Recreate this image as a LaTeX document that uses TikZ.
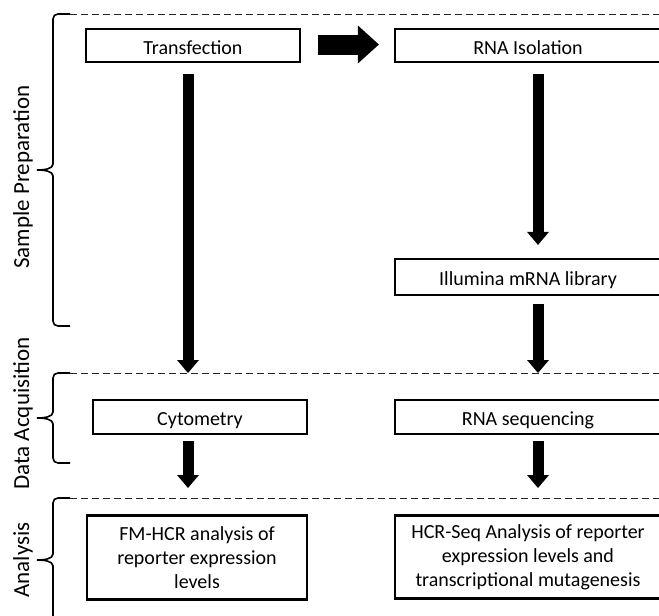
\documentclass[tikz,border=0pt]{standalone}
\usepackage{fontspec}
\setmainfont{Carlito}
\usetikzlibrary{arrows.meta,calc}
\begin{document}
\begin{tikzpicture}[x=1pt,y=-1pt,
  box/.style={draw, line width=2.2pt, fill=white, font=\fontsize{20}{23.8}\selectfont, align=center, inner sep=0pt},
  onebox/.style={box, text height=17pt, text depth=0pt},
  phase/.style={font=\fontsize{23}{27}\selectfont, rotate=90, anchor=base, inner sep=0pt},
  sepline/.style={line width=1pt, black!85, dash pattern=on 7pt off 4pt},
  bracepath/.style={line width=1.6pt},
  bigdown/.style={line width=11pt, -{Triangle[width=22pt,length=13pt,line width=0pt]}},
  bigright/.style={line width=20pt, -{Triangle[width=38pt,length=21pt,line width=0pt]}},
]
\useasboundingbox (0,0) rectangle (659,616);

% phase separators
\coordinate (d1L) at (70,14);  \coordinate (d1R) at (662,14);
\coordinate (d2L) at (70,373); \coordinate (d2R) at (662,373);
\coordinate (d3L) at (70,498); \coordinate (d3R) at (662,498);
\draw[sepline] (d1L) -- (d1R);
\draw[sepline] (d2L) -- (d2R);
\draw[sepline] (d3L) -- (d3R);

% braces
\draw[bracepath] (70,14) -- (58,14) .. controls (55,14) and (53,16) .. (53,19) -- (53,164)
  .. controls (53,169) and (44,170) .. (37,170) .. controls (44,170) and (53,171) .. (53,176)
  -- (53,321) .. controls (53,324) and (55,326) .. (58,326) -- (70,326);
\draw[bracepath] (70,373) -- (58,373) .. controls (55,373) and (53,375) .. (53,378) -- (53,412)
  .. controls (53,417) and (44,418) .. (37,418) .. controls (44,418) and (53,419) .. (53,424)
  -- (53,458) .. controls (53,461) and (55,463) .. (58,463) -- (70,463);
\draw[bracepath] (70,498) -- (58,498) .. controls (55,498) and (53,500) .. (53,503) -- (53,554)
  .. controls (53,559) and (44,560) .. (37,560) .. controls (44,560) and (53,561) .. (53,566)
  -- (53,622);

% phase labels
\node[phase] (lab1) at (29,177) {Sample Preparation};
\node[phase] (lab2) at (29,413.5) {Data Acquisition};
\node[phase] (lab3) at (29,560) {Analysis};

% boxes
\node[onebox, minimum width=214pt, minimum height=33pt] (trans) at (193,45.5) {Transfection};
\node[onebox, minimum width=266pt, minimum height=33pt] (rnaiso) at (528,45.5) {RNA Isolation};
\node[onebox, minimum width=266pt, minimum height=36pt] (illum) at (528,277) {Illumina mRNA library};
\node[onebox, minimum width=214pt, minimum height=34pt] (cyto) at (200,417) {Cytometry};
\node[onebox, minimum width=266pt, minimum height=34pt] (rnaseq) at (528,417) {RNA sequencing};
\node[box, minimum width=220pt, minimum height=84pt] (fmhcr) at (197,557.5) {FM-HCR analysis of\\reporter expression\\levels};
\node[box, minimum width=266pt, minimum height=83pt] (hcrseq) at (528,557) {HCR-Seq Analysis of reporter\\expression levels and\\transcriptional mutagenesis};

% block arrows
\draw[bigright] ([xshift=17pt,yshift=1pt]trans.east) -- ([xshift=-15pt,yshift=1pt]rnaiso.west);
\draw[bigdown] ([xshift=-5pt,yshift=-11pt]trans.south) -- ([xshift=-5pt]trans.south |- d2L);
\draw[bigdown] ([xshift=10pt,yshift=-11pt]rnaiso.south) -- ([xshift=10pt,yshift=13pt]illum.north);
\draw[bigdown] ([xshift=10pt,yshift=-8pt]illum.south) -- ([xshift=10pt]illum.south |- d2L);
\draw[bigdown] ([xshift=-12pt,yshift=-6pt]cyto.south) -- ($(cyto.south |- d3L)+(-12,-10)$);
\draw[bigdown] ([xshift=10pt,yshift=-6pt]rnaseq.south) -- ($(rnaseq.south |- d3L)+(10,-10)$);
\end{tikzpicture}
\end{document}
